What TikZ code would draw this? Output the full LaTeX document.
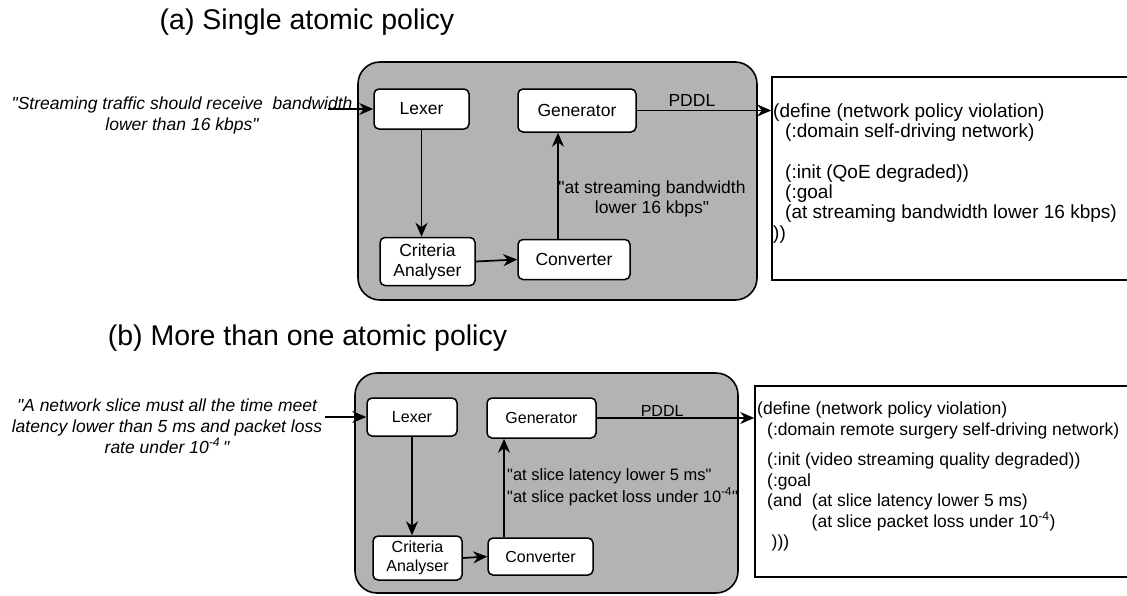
\documentclass[tikz,border=0pt]{standalone}
\usepackage{fontspec}
\setmainfont{Liberation Sans}[Ligatures=TeXOff]
\usetikzlibrary{arrows.meta}
\definecolor{panelgray}{HTML}{B3B3B3}
\newcommand\fsz[2]{\fontsize{#1pt}{#2pt}\selectfont}
\begin{document}
\begin{tikzpicture}[x=1pt,y=-1pt,
  panel/.style={draw=black, fill=panelgray, line width=1.6pt, rounded corners=22pt, inner sep=0pt},
  stage/.style={draw=black, fill=white, line width=1.5pt, rounded corners=5pt, inner sep=0pt, align=center},
  codebox/.style={draw=black, fill=white, line width=1.5pt, inner sep=0pt},
  flow/.style={-{Stealth[length=14pt,width=12pt,inset=4.5pt]}, line width=1.7pt},
  plain/.style={inner sep=0pt},
  title/.style={plain, anchor=base, font=\fsz{28.5}{34}},
]
\useasboundingbox (0,0) rectangle (1127,595);

% ---------- (a) ----------
\node[title] (titleA) at (307,29) {(a) Single atomic policy};

\node[panel, minimum width=399pt, minimum height=238pt] (panelA) at (557.5,181) {};
\node[stage, minimum width=95pt, minimum height=40pt, font=\fsz{17.5}{20}] (lexA) at (421.5,109) {Lexer};
\node[stage, minimum width=118pt, minimum height=43pt, font=\fsz{17.5}{20}] (genA) at (577,110.5) {Generator};
\node[stage, minimum width=95pt, minimum height=48pt, font=\fsz{17.5}{20}] (critA) at (427.5,261.5) {Criteria\\Analyser};
\node[stage, minimum width=112pt, minimum height=40pt, font=\fsz{17.5}{20}] (convA) at (574,259.5) {Converter};

\node[codebox, minimum width=358pt, minimum height=203pt] (outA) at (951,178.5) {};
\node[plain, anchor=north west, align=left, font=\fsz{19}{20.3}] (codeA) at (773,103.4)
  {(define (network policy violation)\\
   \hspace*{12pt}(:domain self-driving network)\\[20.3pt]
   \hspace*{12pt}(:init (QoE degraded))\\
   \hspace*{12pt}(:goal\\
   \hspace*{12pt}(at streaming bandwidth lower 16 kbps)\\
   ))};

\node[plain, anchor=north, align=center, font=\fsz{17.5}{21}\itshape] (inA) at (182,96.2)
  {"Streaming traffic should receive\ \ bandwidth\\lower than 16 kbps"};
\coordinate (inAend) at (328,109);

\node[plain, anchor=north, align=center, font=\fsz{17.5}{20}] (lblA) at (652,180.2)
  {"at streaming bandwidth\\lower 16 kbps"};

\draw[flow] (inAend) -- (lexA.west);
\draw[flow] (lexA.south) -- (lexA.south |- critA.north);
\draw[flow] (critA.east) -- (convA.west);
\draw[flow] ([xshift=-16pt]convA.north) -- ([xshift=-16pt]convA.north |- genA.south);
\draw[flow] (genA.east) -- (genA.east -| outA.west)
  node[pos=0.41, anchor=base, yshift=4pt, inner sep=0pt, font=\fsz{17.5}{20}] (pddlA) {PDDL};

% ---------- (b) ----------
\node[title] (titleB) at (307.5,345) {(b) More than one atomic policy};

\node[panel, minimum width=383pt, minimum height=220pt] (panelB) at (546.5,483) {};
\node[stage, minimum width=90pt, minimum height=38pt, font=\fsz{16}{19}] (lexB) at (412,417) {Lexer};
\node[stage, minimum width=109pt, minimum height=40pt, font=\fsz{16}{19}] (genB) at (541.5,418) {Generator};
\node[stage, minimum width=89pt, minimum height=44pt, font=\fsz{16}{19}] (critB) at (417.5,558) {Criteria\\Analyser};
\node[stage, minimum width=105pt, minimum height=37pt, font=\fsz{16}{19}] (convB) at (540.5,556.5) {Converter};

\node[codebox, minimum width=375pt, minimum height=191pt] (outB) at (942.5,481.5) {};
\node[plain, anchor=north west, align=left, font=\fsz{17.5}{20.5}] (codeB) at (757,401.7)
  {(define (network policy violation)\\
   \hspace*{10pt}(:domain remote surgery self-driving network)\\[10pt]
   \hspace*{10pt}(:init (video streaming quality degraded))\\
   \hspace*{10pt}(:goal\\
   \hspace*{10pt}(and\ \ (at slice latency lower 5 ms)\\
   \hspace*{54.5pt}(at slice packet loss under 10\textsuperscript{-4})\\
   \hspace*{14.5pt})))};

\node[plain, anchor=north, align=center, font=\fsz{17.5}{21}\itshape] (inB) at (167,398.2)
  {"A network slice must all the time meet\\latency lower than 5 ms and packet loss\\rate under 10\textsuperscript{-4}\,"};
\coordinate (inBend) at (325,417);

\node[plain, anchor=north west, align=left, font=\fsz{16.5}{22}] (lblB) at (507,468)
  {"at slice latency lower 5 ms"\\"at slice packet loss under 10\textsuperscript{-4}"};

\draw[flow] (inBend) -- (lexB.west);
\draw[flow] (lexB.south) -- (lexB.south |- critB.north);
\draw[flow] (critB.east) -- (convB.west);
\draw[flow] ([xshift=-36.5pt]convB.north) -- ([xshift=-36.5pt]convB.north |- genB.south);
\draw[flow] (genB.east) -- (genB.east -| outB.west)
  node[pos=0.415, anchor=base, yshift=1.5pt, inner sep=0pt, font=\fsz{16}{19}] (pddlB) {PDDL};
\end{tikzpicture}
\end{document}
